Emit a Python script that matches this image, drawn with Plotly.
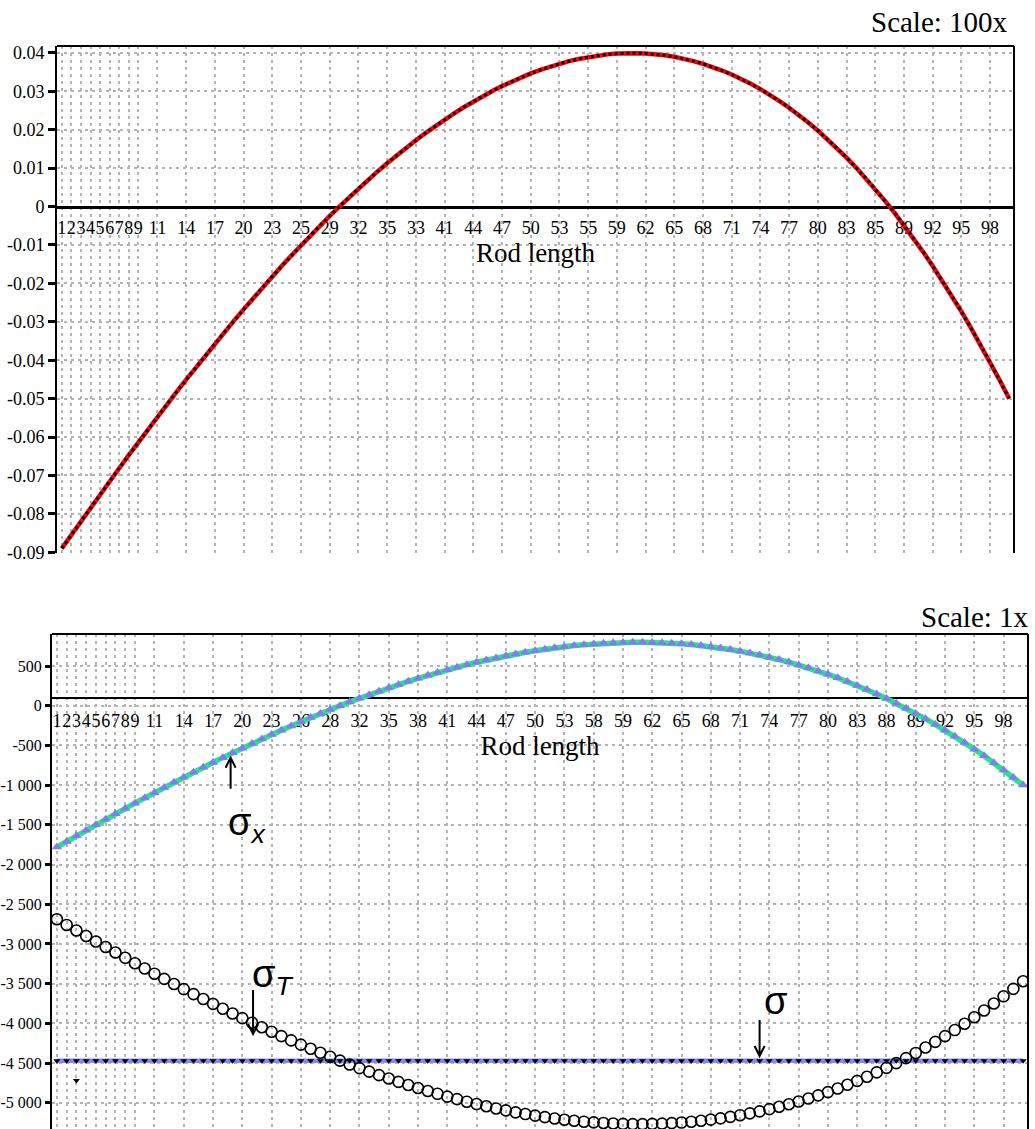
import plotly.graph_objects as go

W, H = 1035, 1129

# Rod positions (one sample per unit of length)
positions = list(range(1, 101))

# Rod deflection, drawn at 100x scale
deflection = [
    -0.08900, -0.08546, -0.08194, -0.07845, -0.07498, -0.07154, -0.06812, -0.06473, -0.06137, -0.05805,
    -0.05475, -0.05149, -0.04826, -0.04507, -0.04192, -0.03880, -0.03573, -0.03269, -0.02970, -0.02676,
    -0.02386, -0.02100, -0.01819, -0.01544, -0.01273, -0.01007, -0.00747, -0.00493, -0.00243, 0.00000,
    0.00238, 0.00469, 0.00695, 0.00914, 0.01127, 0.01333, 0.01533, 0.01726, 0.01912, 0.02091,
    0.02263, 0.02427, 0.02584, 0.02734, 0.02876, 0.03010, 0.03136, 0.03254, 0.03364, 0.03466,
    0.03559, 0.03643, 0.03719, 0.03786, 0.03843, 0.03892, 0.03932, 0.03962, 0.03982, 0.03993,
    0.03994, 0.03985, 0.03966, 0.03937, 0.03898, 0.03848, 0.03787, 0.03716, 0.03634, 0.03541,
    0.03437, 0.03322, 0.03195, 0.03057, 0.02907, 0.02746, 0.02572, 0.02387, 0.02189, 0.01979,
    0.01757, 0.01522, 0.01274, 0.01014, 0.00741, 0.00454, 0.00155, -0.00158, -0.00485, -0.00825,
    -0.01178, -0.01546, -0.01927, -0.02323, -0.02733, -0.03157, -0.03596, -0.04050, -0.04518, -0.05001,
]

# Stress components along the rod (1x scale)
sigma_x = [
    -1780, -1709, -1639, -1569, -1500, -1431, -1362, -1295, -1227, -1161,
    -1095, -1030, -965, -901, -838, -776, -715, -654, -594, -535,
    -477, -420, -364, -309, -255, -201, -149, -99, -49, 0,
    48, 94, 139, 183, 225, 267, 307, 345, 382, 418,
    453, 485, 517, 547, 575, 602, 627, 651, 673, 693,
    712, 729, 744, 757, 769, 778, 786, 792, 796, 799,
    799, 797, 793, 787, 780, 770, 757, 743, 727, 708,
    687, 664, 639, 611, 581, 549, 514, 477, 438, 396,
    351, 304, 255, 203, 148, 91, 31, -32, -97, -165,
    -236, -309, -385, -465, -547, -631, -719, -810, -904, -1000,
]

sigma_T = [
    -2690, -2761, -2831, -2901, -2970, -3039, -3108, -3175, -3243, -3309,
    -3375, -3440, -3505, -3569, -3632, -3694, -3755, -3816, -3876, -3935,
    -3993, -4050, -4106, -4161, -4215, -4269, -4321, -4371, -4421, -4470,
    -4518, -4564, -4609, -4653, -4695, -4737, -4777, -4815, -4852, -4888,
    -4923, -4955, -4987, -5017, -5045, -5072, -5097, -5121, -5143, -5163,
    -5182, -5199, -5214, -5227, -5239, -5248, -5256, -5262, -5266, -5269,
    -5269, -5267, -5263, -5257, -5250, -5240, -5227, -5213, -5197, -5178,
    -5157, -5134, -5109, -5081, -5051, -5019, -4984, -4947, -4908, -4866,
    -4821, -4774, -4725, -4673, -4618, -4561, -4501, -4438, -4373, -4305,
    -4234, -4161, -4085, -4005, -3923, -3839, -3751, -3660, -3566, -3470,
]

sigma_total = [
    -4470, -4470, -4470, -4470, -4470, -4470, -4470, -4470, -4470, -4470,
    -4470, -4470, -4470, -4470, -4470, -4470, -4470, -4470, -4470, -4470,
    -4470, -4470, -4470, -4470, -4470, -4470, -4470, -4470, -4470, -4470,
    -4470, -4470, -4470, -4470, -4470, -4470, -4470, -4470, -4470, -4470,
    -4470, -4470, -4470, -4470, -4470, -4470, -4470, -4470, -4470, -4470,
    -4470, -4470, -4470, -4470, -4470, -4470, -4470, -4470, -4470, -4470,
    -4470, -4470, -4470, -4470, -4470, -4470, -4470, -4470, -4470, -4470,
    -4470, -4470, -4470, -4470, -4470, -4470, -4470, -4470, -4470, -4470,
    -4470, -4470, -4470, -4470, -4470, -4470, -4470, -4470, -4470, -4470,
    -4470, -4470, -4470, -4470, -4470, -4470, -4470, -4470, -4470, -4470,
]

# A lone sample of the total stress that sits off the line
stray_x = [3]
stray_y = [-4720]

# Category ticks along the rod
x_tick_vals = [1, 2, 3, 4, 5, 6, 7, 8, 9, 11, 14, 17, 20, 23, 26, 29, 32, 35, 38, 41,
               44, 47, 50, 53, 56, 59, 62, 65, 68, 71, 74, 77, 80, 83, 86, 89, 92, 95, 98]
top_x_tick_text = ["1", "2", "3", "4", "5", "6", "7", "8", "9", "11", "14", "17", "20", "23",
                   "25", "29", "32", "35", "33", "41", "44", "47", "50", "53", "55", "59", "62",
                   "65", "68", "71", "74", "77", "80", "83", "85", "89", "92", "95", "98"]
bottom_x_tick_text = ["1", "2", "3", "4", "5", "6", "7", "8", "9", "11", "14", "17", "20", "23",
                      "26", "28", "32", "35", "38", "41", "44", "47", "50", "53", "58", "59", "62",
                      "65", "68", "71", "74", "77", "80", "83", "88", "89", "92", "95", "98"]

top_y_vals = [0.04, 0.03, 0.02, 0.01, 0, -0.01, -0.02, -0.03, -0.04, -0.05, -0.06, -0.07, -0.08, -0.09]
top_y_text = ["0.04", "0.03", "0.02", "0.01", "0", "-0.01", "-0.02", "-0.03", "-0.04",
              "-0.05", "-0.06", "-0.07", "-0.08", "-0.09"]
bottom_y_vals = [500, 0, -500, -1000, -1500, -2000, -2500, -3000, -3500, -4000, -4500, -5000]
bottom_y_text = ["500", "0", "-500", "-1 000", "-1 500", "-2 000", "-2 500", "-3 000",
                 "-3 500", "-4 000", "-4 500", "-5 000"]

SERIF = "Liberation Serif"
GRID = "#b4b4b4"
GRID_DASH = "3px,4px"

# Plot areas (pixels from top-left), converted to paper fractions
top_x_dom = [57 / W, 1014 / W]
top_y_dom = [1 - 553 / H, 1 - 46 / H]
top_y_rng = [-0.0902, 0.0418]
bot_x_dom = [52 / W, 1028 / W]
bot_y_dom = [0.0, 1 - 634 / H]
bot_y_rng = [-5331, 903]
x_rng = [0.5, 100.5]


def paper_y(value, dom, rng):
    return dom[0] + (value - rng[0]) / (rng[1] - rng[0]) * (dom[1] - dom[0])


fig = go.Figure()

# --- deflection (top) ---
fig.add_trace(go.Scatter(x=positions, y=deflection, mode="lines",
                         line=dict(color="#ff0000", width=4.5),
                         xaxis="x", yaxis="y", showlegend=False, hoverinfo="skip"))
fig.add_trace(go.Scatter(x=positions, y=deflection, mode="lines",
                         line=dict(color="#000000", width=3, dash="3px,3px"),
                         xaxis="x", yaxis="y", showlegend=False))

# --- stresses (bottom) ---
fig.add_trace(go.Scatter(x=positions, y=sigma_total, mode="lines+markers",
                         line=dict(color="#8585fb", width=4.5),
                         marker=dict(symbol="triangle-down", size=6, color="#000000"),
                         xaxis="x2", yaxis="y2", showlegend=False))
fig.add_trace(go.Scatter(x=stray_x, y=stray_y, mode="markers",
                         marker=dict(symbol="triangle-down", size=6, color="#000000"),
                         xaxis="x2", yaxis="y2", showlegend=False))
fig.add_trace(go.Scatter(x=positions, y=sigma_T, mode="markers",
                         marker=dict(symbol="circle-open", size=11, color="#000000",
                                     line=dict(width=1.6, color="#000000")),
                         xaxis="x2", yaxis="y2", showlegend=False))
fig.add_trace(go.Scatter(x=positions, y=sigma_x, mode="lines+markers",
                         line=dict(color="#22e68a", width=5.5),
                         marker=dict(symbol="triangle-up", size=9, color="#807cf4"),
                         xaxis="x2", yaxis="y2", showlegend=False))

axis_font = dict(family=SERIF, size=18, color="#000000")
title_font = dict(family=SERIF, size=27, color="#000000")
caption_font = dict(family=SERIF, size=29, color="#000000")

common_x = dict(range=x_rng, tickmode="array", tickvals=x_tick_vals, tickangle=0,
                showgrid=True, gridcolor=GRID, gridwidth=2, griddash=GRID_DASH,
                zeroline=False, showline=True, linecolor="#000000",
                ticks="", tickfont=axis_font, layer="below traces",
                automargin=False, anchor="free", fixedrange=True)
common_y = dict(tickmode="array", showgrid=True, gridcolor=GRID, gridwidth=2,
                griddash=GRID_DASH, zeroline=False, showline=True, linecolor="#000000",
                linewidth=2, ticks="outside", ticklen=7, tickwidth=3, tickcolor="#000000",
                automargin=False, fixedrange=True)

fig.update_layout(
    width=W, height=H,
    margin=dict(l=0, r=0, t=0, b=0),
    paper_bgcolor="#ffffff", plot_bgcolor="#ffffff",
    showlegend=False,
    xaxis=dict(common_x, domain=top_x_dom, ticktext=top_x_tick_text,
               position=paper_y(0, top_y_dom, top_y_rng), linewidth=3,
               ticklabelstandoff=4,
               title=dict(text="Rod length", font=title_font, standoff=5)),
    yaxis=dict(common_y, domain=top_y_dom, range=top_y_rng, anchor="x",
               tickvals=top_y_vals, ticktext=top_y_text, tickfont=axis_font),
    xaxis2=dict(common_x, domain=bot_x_dom, ticktext=bottom_x_tick_text,
                position=paper_y(100, bot_y_dom, bot_y_rng), linewidth=2,
                ticklabelstandoff=7,
                title=dict(text="Rod length", font=title_font, standoff=5)),
    yaxis2=dict(common_y, domain=bot_y_dom, range=bot_y_rng, anchor="x2",
                tickvals=bottom_y_vals, ticktext=bottom_y_text,
                tickfont=dict(family=SERIF, size=16, color="#000000"), ticklen=5),
)

# Frame edges (top and right) of both plot areas
for xd, yd, w in ((top_x_dom, top_y_dom, 2), (bot_x_dom, bot_y_dom, 2)):
    fig.add_shape(type="line", xref="paper", yref="paper", x0=xd[0], x1=xd[1], y0=yd[1], y1=yd[1],
                  line=dict(color="#000000", width=w))
    fig.add_shape(type="line", xref="paper", yref="paper", x0=xd[1], x1=xd[1], y0=yd[0], y1=yd[1],
                  line=dict(color="#000000", width=w))

# Scale captions
fig.add_annotation(text="Scale: 100x", xref="paper", yref="paper", x=1010 / W, y=1 - 22 / H,
                   xanchor="right", yanchor="middle", showarrow=False, font=caption_font)
fig.add_annotation(text="Scale: 1x", xref="paper", yref="paper", x=1031 / W, y=1 - 617 / H,
                   xanchor="right", yanchor="middle", showarrow=False, font=caption_font)

# Open-headed arrows pointing at each stress curve (tip anchored on the curve,
# path drawn in pixel offsets, +y up)
ARROW_UP = "M 0,-32 L 0,-1 M -5,-11 L 0,-1 L 5,-11"
ARROW_DOWN_LONG = "M 0,45 L 0,1 M -5,11 L 0,1 L 5,11"
ARROW_DOWN = "M 0,37 L 0,1 M -5,11 L 0,1 L 5,11"
for tip_x, tip_y, path in ((18.8, -642, ARROW_UP), (21.1, -4147, ARROW_DOWN_LONG),
                           (73.0, -4425, ARROW_DOWN)):
    fig.add_shape(type="path", xref="x2", yref="y2", xsizemode="pixel", ysizemode="pixel",
                  xanchor=tip_x, yanchor=tip_y, path=path,
                  line=dict(color="#000000", width=2))

sym_font = dict(family="Liberation Sans", size=38, color="#000000")
fig.add_annotation(text="σ<sub><i>x</i></sub>", x=18.3, y=-1500, xref="x2", yref="y2",
                   xanchor="left", yanchor="middle", showarrow=False, font=sym_font)
fig.add_annotation(text="σ<sub><i>T</i></sub>", x=20.8, y=-3420, xref="x2", yref="y2",
                   xanchor="left", yanchor="middle", showarrow=False, font=sym_font)
fig.add_annotation(text="σ", x=73.2, y=-3720, xref="x2", yref="y2",
                   xanchor="left", yanchor="middle", showarrow=False, font=sym_font)

fig.write_html("out.html")
